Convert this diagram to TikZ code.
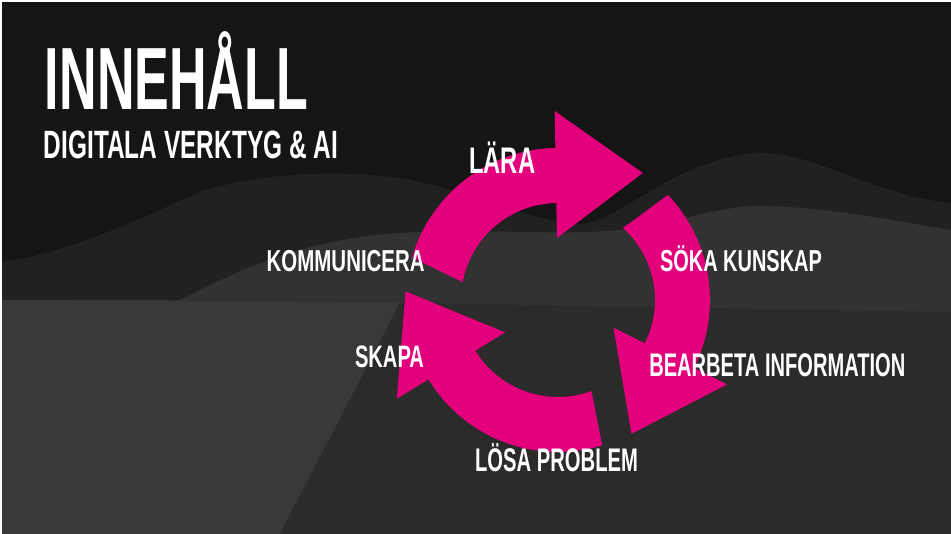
\documentclass[tikz,border=0pt]{standalone}
\usepackage{fontspec}
\usepackage{graphicx}
\newfontfamily\dinfont{Liberation Sans}
\definecolor{bgtop}{HTML}{151515}
\definecolor{bgone}{HTML}{212121}
\definecolor{bgtwo}{HTML}{323232}
\definecolor{bglight}{HTML}{393939}
\definecolor{bglow}{HTML}{2B2B2B}
\definecolor{arrowpink}{HTML}{E4007C}
\tikzset{
  lbl/.style={anchor=base west, inner sep=0pt, outer sep=0pt, text=white, font=\dinfont\bfseries},
  cyc/.style={fill=arrowpink, draw=none}
}
\newcommand\fitlabel[3]{\resizebox{#1pt}{\height}{\fontsize{#2}{#2}\selectfont #3}}
\newcommand\cyclearrow[3]{%
  \fill[cyc] (#1:152) arc[start angle=#1, end angle=#3, radius=152]
    -- (#3:189)
    -- ({125.5*cos(#3)+87*sin(#3)}, {125.5*sin(#3)-87*cos(#3)})
    -- (#3:62) -- (#3:97)
    arc[start angle=#3, end angle=#2, radius=97] -- cycle;}
\begin{document}
\begin{tikzpicture}[x=1pt,y=-1pt]
\useasboundingbox (0,0) rectangle (951,534);
\fill[white] (0,0) rectangle (951,534);
\fill[bgtop] (2,2) rectangle (951,534);
\begin{scope}
\clip (2,2) rectangle (951,534);
% far hill layer
\fill[bgone] (0,262) .. controls (60,255) and (120,228) .. (200,192)
  .. controls (250,176) and (320,168) .. (400,178)
  .. controls (470,190) and (530,222) .. (580,224)
  .. controls (620,222) and (660,168) .. (750,153)
  .. controls (810,148) and (870,195) .. (951,203)
  -- (951,534) -- (0,534) -- cycle;
% middle layer
\fill[bgtwo] (180,300) .. controls (240,270) and (300,240) .. (400,233)
  .. controls (480,228) and (560,236) .. (620,230)
  .. controls (680,222) and (720,206) .. (760,206)
  .. controls (830,207) and (900,222) .. (951,230)
  -- (951,534) -- (0,534) -- (0,300) -- cycle;
% lower layers
\fill[bglight] (0,300) -- (400,303) -- (280,534) -- (0,534) -- cycle;
\fill[bglow] (400,303) .. controls (550,305) and (750,309) .. (951,312)
  -- (951,534) -- (280,534) -- cycle;
\end{scope}
% cycle arrows
\begin{scope}[shift={(558,300)}, yscale=-1]
\cyclearrow{163.8}{169.3}{91}
\cyclearrow{43.7}{47.9}{-26.5}
\cyclearrow{-73.1}{-69.8}{-148.5}
\end{scope}
% texts
\node[lbl] (title) at (45,110) {\fitlabel{263}{88.4}{INNEHÅLL}};
\node[lbl] (subtitle) at (44,158.3) {\fitlabel{294}{39.5}{DIGITALA VERKTYG \& AI}};
\node[lbl] (lara) at (469.3,173.3) {\fitlabel{66}{37}{LÄRA}};
\node[lbl] (soka) at (660,271.7) {\fitlabel{162}{30.3}{SÖKA KUNSKAP}};
\node[lbl] (komm) at (266.7,271.7) {\fitlabel{158}{30.3}{KOMMUNICERA}};
\node[lbl] (skapa) at (355,367.3) {\fitlabel{69}{31}{SKAPA}};
\node[lbl] (bearb) at (649.3,376.7) {\fitlabel{256}{32.7}{BEARBETA INFORMATION}};
\node[lbl] (losa) at (475,471.7) {\fitlabel{163}{32.7}{LÖSA PROBLEM}};
\end{tikzpicture}
\end{document}
